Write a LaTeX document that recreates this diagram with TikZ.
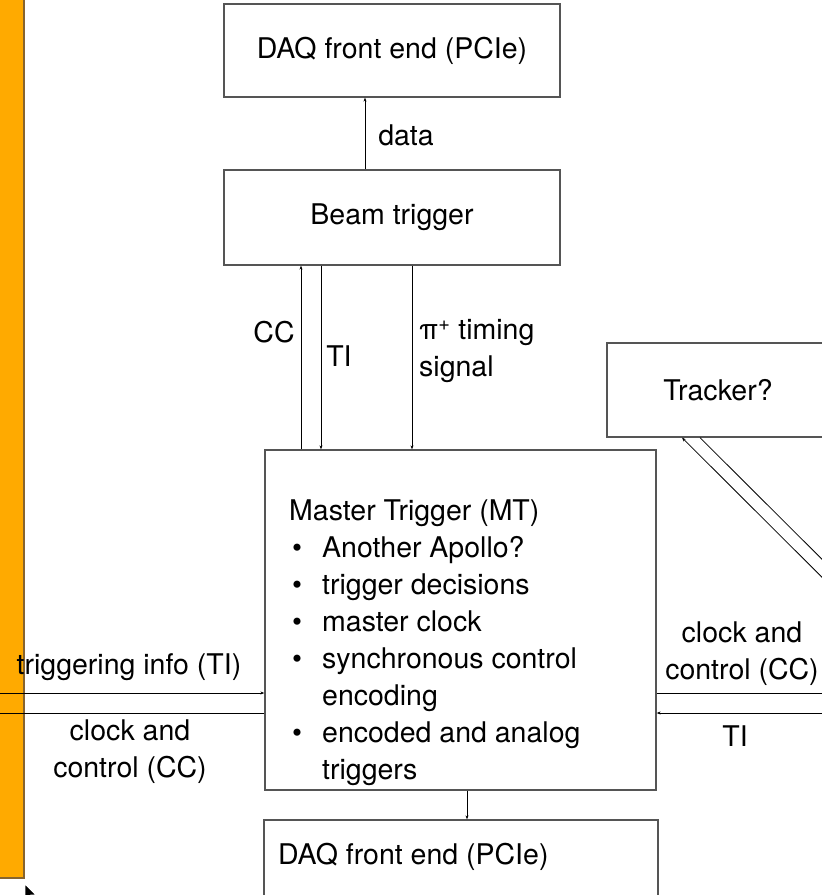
\documentclass[tikz,border=0pt]{standalone}
\usepackage{fontspec}
\setmainfont{TeX Gyre Heros}
\usetikzlibrary{arrows.meta}
\definecolor{barorange}{RGB}{255,170,0}
\definecolor{baredge}{RGB}{135,100,45}
\definecolor{boxgray}{RGB}{85,85,85}
\newcommand{\mtitem}{\makebox[33pt][l]{\hspace*{3pt}\textbullet}}
\newcommand{\mtindent}{\hspace*{33pt}}
\tikzset{
  box/.style={draw=boxgray,line width=1.3pt,inner sep=0pt},
  lbl/.style={inner sep=0pt,align=center},
  conn/.style={-{Stealth[length=4pt,width=3pt]},line width=0.8pt}
}

\begin{document}
\begin{tikzpicture}[x=1pt,y=-1pt,font=\fontsize{28.5}{37}\selectfont]
\useasboundingbox (0,0) rectangle (822,895);
\clip (0,0) rectangle (822,895);
% side bar
\draw[fill=barorange,draw=baredge,line width=1.6pt] (-10,-10) rectangle (24,878);
% boxes
\node[box,minimum width=336,minimum height=93] (daqtop) at (392,50.5) {DAQ front end (PCIe)};
\node[box,minimum width=336,minimum height=95] (beam) at (392,217.5) {Beam trigger};
\node[box,minimum width=391,minimum height=340] (mt) at (460.5,620) {};
\node[box,minimum width=394,minimum height=110] (daqbot) at (461,875) {};
\node[box,minimum width=222,minimum height=94] (tracker) at (718,390) {Tracker?};
% box texts
\node[lbl,anchor=north west,align=left] (mttxt) at (289,500)
  {Master Trigger (MT)\\
   \mtitem Another Apollo?\\
   \mtitem trigger decisions\\
   \mtitem master clock\\
   \mtitem synchronous control\\
   \mtindent encoding\\
   \mtitem encoded and analog\\
   \mtindent triggers};
\node[lbl,anchor=west] (daqbottxt) at (278,857) {DAQ front end (PCIe)};
% x positions of vertical links
\coordinate (xdata) at (365,0);
\coordinate (xcc) at (301,0);
\coordinate (xti) at (321,0);
\coordinate (xpi) at (412,0);
\coordinate (xout) at (467,0);
\coordinate (xtra) at (682,0);
\coordinate (xtrb) at (700,0);
% free ends outside the frame
\coordinate (lin) at (-20,693);
\coordinate (lout) at (-20,713);
\coordinate (rout) at (850,693);
\coordinate (rin) at (850,713);
\coordinate (fara) at (900,655);
\coordinate (farb) at (900,637);
% links
\draw[conn] (beam.north -| xdata) -- (daqtop.south -| xdata);
\draw[conn] (mt.north -| xcc) -- (beam.south -| xcc);
\draw[conn] (beam.south -| xti) -- (mt.north -| xti);
\draw[conn] (beam.south -| xpi) -- (mt.north -| xpi);
\draw[conn] (mt.south -| xout) -- (daqbot.north -| xout);
\draw[conn] (lin) -- (lin -| mt.west);
\draw[conn] (mt.west |- lout) -- (lout);
\draw[conn] (mt.east |- rout) -- (rout);
\draw[conn] (rin) -- (rin -| mt.east);
\draw[conn] (fara) -- (tracker.south -| xtra);
\draw[conn] (tracker.south -| xtrb) -- (farb);
% labels
\node[lbl] (ldata) at (406,135) {data};
\node[lbl] (lcc) at (274,332) {CC};
\node[lbl] (lti) at (339,356) {TI};
\node[lbl,anchor=west,align=left] (lpi) at (419,351) {π\textsuperscript{+} timing\\signal};
\node[lbl] (ltrig) at (129,667) {triggering info (TI)};
\node[lbl] (lccleft) at (130,752) {clock and\\control (CC)};
\node[lbl] (lccright) at (742,654) {clock and\\control (CC)};
\node[lbl] (ltiright) at (735,736) {TI};
% pointer
\draw[fill=black,draw=white,line width=0.8pt] (25,884) -- ++(0,16) -- ++(4,-4) -- ++(3,7)
  -- ++(2,-1) -- ++(-3,-7) -- ++(5,0) -- cycle;
\end{tikzpicture}
\end{document}
